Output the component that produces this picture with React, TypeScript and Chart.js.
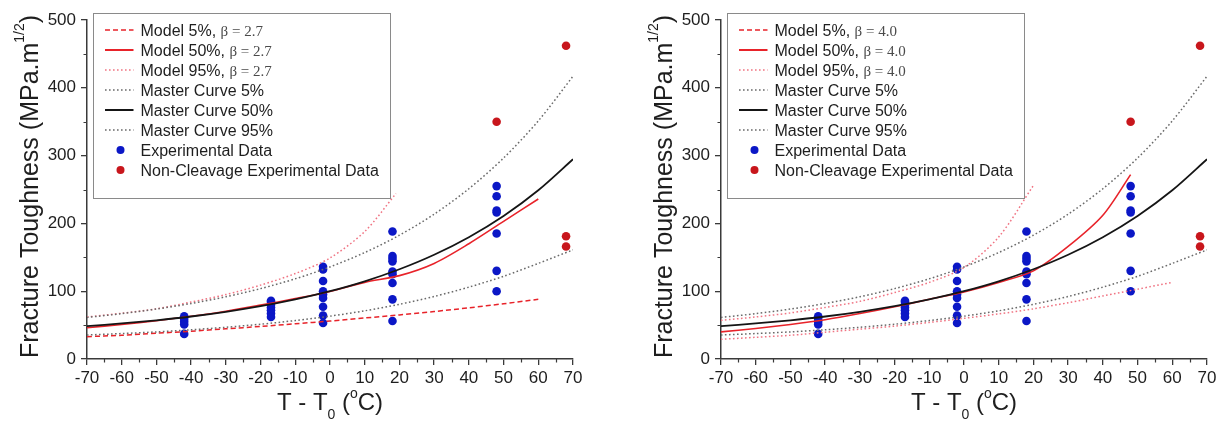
import React, { useEffect, useRef } from 'react';
import { Chart, registerables } from 'chart.js';

Chart.register(...registerables);

// ---------- data ----------
const X_MIN = -70;
const X_MAX = 70;
const X_STEP = 10;
const Y_MIN = 0;
const Y_MAX = 500;
const Y_STEP = 100;
const X_MINOR = [-65, -55, -45, -35, -25, -15, -5, 5, 15, 25, 35, 45, 55, 65];
const Y_MINOR = [50, 150, 250, 350, 450];

const CURVE_T = [-70, -60, -50, -40, -30, -20, -10, 0, 10, 20, 30, 40, 50, 60, 70];
const MASTER_5 = [35.4, 37.5, 40.0, 43.1, 46.8, 51.3, 56.7, 63.2, 71.1, 80.7, 92.2, 106, 122, 141, 161];
const MASTER_50 = [48.5, 52.4, 57.1, 62.7, 69.6, 77.9, 87.9, 100, 114.6, 132.4, 153.8, 179.7, 211, 248.9, 294.7];
const MASTER_95 = [61.3, 66.9, 73.7, 81.9, 91.8, 103.8, 118.3, 135.8, 157, 182.6, 213.6, 251.1, 296.4, 351.2, 417];

const MODEL_T60 = [-70, -60, -50, -40, -30, -20, -10, 0, 10, 20, 30, 40, 50, 60];

// beta = 2.7
const B27_M5 = [33, 35, 38, 41, 44.5, 48, 52, 56, 60.5, 65, 70, 75.5, 81.5, 88];
const B27_M50 = [46, 51, 56.5, 63, 70.5, 79.5, 89, 99.5, 113, 123, 141, 170, 203, 236];
const B27_M95_T = [-70, -60, -50, -40, -30, -20, -10, 0, 10, 19];
const B27_M95 = [62, 67.5, 74, 84, 95, 109, 126, 149, 188, 244];

// beta = 4.0
const B40_M5 = [29, 32, 35, 39.5, 44, 48.5, 54, 60, 66.5, 74, 83, 93, 103, 113];
const B40_M50_T = [-70, -60, -50, -40, -30, -20, -10, 0, 10, 20, 30, 40, 48];
const B40_M50 = [40, 45, 51, 58, 67, 77, 88, 99, 113, 130, 166, 212, 272];
const B40_M95_T = [-70, -60, -50, -40, -30, -20, -10, 0, 10, 20];
const B40_M95 = [57, 62, 68, 76, 85, 98, 113, 135, 180, 256];

// experimental data (same for both panels)
const EXP_T = [
  -42, -42, -42, -42, -42,
  -17, -17, -17, -17, -17, -17, -17,
  -2, -2, -2, -2, -2, -2, -2, -2, -2,
  18, 18, 18, 18, 18, 18, 18, 18, 18,
  48, 48, 48, 48, 48, 48, 48,
];
const EXP_K = [
  63, 59, 55, 51, 37,
  86, 84, 80, 76, 72, 67, 62,
  136, 132, 115, 100, 95, 90, 77, 64, 53,
  188, 152, 148, 144, 129, 125, 112, 88, 56,
  255, 240, 219, 216, 185, 130, 100,
];
const NC_T = [48, 68, 68, 68];
const NC_K = [350, 462, 181, 166];

// ---------- styles ----------
const SANS = '"Liberation Sans", Arial, sans-serif';
const SERIF = '"Liberation Serif", "Times New Roman", serif';
const AXIS = '#3a3a3a';
const TEXT = '#1e1e1e';
const RED = '#e8232a';
const PINK = '#f07483';
const GREY = '#6a6a6a';
const BLACK = '#151515';
const BLUE = '#0b17c6';
const DARKRED = '#c8161c';
const DASH_MODEL5 = [5, 3];
const DOT = [1.6, 2.4];

const pts = (xs: number[], ys: number[]) => xs.map((x, i) => ({ x, y: ys[i] }));

type Part = { t: string; size: number; dy?: number; font?: string };

function drawRich(ctx: CanvasRenderingContext2D, parts: Part[], cx: number, baseY: number) {
  let total = 0;
  const widths = parts.map((p) => {
    ctx.font = `${p.size}px ${p.font || SANS}`;
    const w = ctx.measureText(p.t).width;
    total += w;
    return w;
  });
  let x = cx - total / 2;
  ctx.textAlign = 'left';
  ctx.textBaseline = 'alphabetic';
  parts.forEach((p, i) => {
    ctx.font = `${p.size}px ${p.font || SANS}`;
    ctx.fillText(p.t, x, baseY + (p.dy || 0));
    x += widths[i];
  });
}

interface PanelProps {
  beta: string;
  m5: { x: number; y: number }[];
  m50: { x: number; y: number }[];
  m95: { x: number; y: number }[];
  yAxisWidth: number;
  padRight: number;
  width: number;
  left: number;
}

function makeDecor(beta: string) {
  return {
    id: 'decor',
    afterDraw(chart: any) {
      const { ctx, chartArea: a, scales } = chart;
      const xs = scales.x;
      const ys = scales.y;
      ctx.save();
      // minor ticks
      ctx.strokeStyle = AXIS;
      ctx.lineWidth = 1.2;
      ctx.setLineDash([]);
      ctx.beginPath();
      X_MINOR.forEach((v) => {
        const px = Math.round(xs.getPixelForValue(v)) + 0.5;
        ctx.moveTo(px, a.bottom);
        ctx.lineTo(px, a.bottom + 3.5);
      });
      Y_MINOR.forEach((v) => {
        const py = Math.round(ys.getPixelForValue(v)) + 0.5;
        ctx.moveTo(a.left - 3.5, py);
        ctx.lineTo(a.left, py);
      });
      ctx.stroke();

      // axis titles
      ctx.fillStyle = TEXT;
      drawRich(
        ctx,
        [
          { t: 'T - T', size: 24 },
          { t: '0', size: 14, dy: 9 },
          { t: ' (', size: 24 },
          { t: 'o', size: 14, dy: -12 },
          { t: 'C)', size: 24 },
        ],
        (a.left + a.right) / 2,
        410
      );
      ctx.save();
      ctx.translate(a.left - 49.5, (a.top + a.bottom) / 2 - 3);
      ctx.rotate(-Math.PI / 2);
      drawRich(
        ctx,
        [
          { t: 'Fracture Toughness (MPa.m', size: 25 },
          { t: '1/2', size: 14, dy: -14 },
          { t: ')', size: 25 },
        ],
        0,
        0
      );
      ctx.restore();

      // legend
      const bx = a.left + 6.5;
      const by = 13.5;
      const bw = 297;
      const bh = 185;
      ctx.fillStyle = '#ffffff';
      ctx.fillRect(bx, by, bw, bh);
      ctx.strokeStyle = '#8a8a8a';
      ctx.lineWidth = 1;
      ctx.strokeRect(bx, by, bw, bh);
      const entries = [
        { kind: 'line', color: RED, dash: DASH_MODEL5, w: 1.5, label: 'Model 5%, ', b: true },
        { kind: 'line', color: RED, dash: [], w: 2, label: 'Model 50%, ', b: true },
        { kind: 'line', color: PINK, dash: DOT, w: 1.5, label: 'Model 95%, ', b: true },
        { kind: 'line', color: GREY, dash: DOT, w: 1.5, label: 'Master Curve 5%', b: false },
        { kind: 'line', color: BLACK, dash: [], w: 2, label: 'Master Curve 50%', b: false },
        { kind: 'line', color: GREY, dash: DOT, w: 1.5, label: 'Master Curve 95%', b: false },
        { kind: 'dot', color: BLUE, dash: [], w: 0, label: 'Experimental Data', b: false },
        { kind: 'dot', color: DARKRED, dash: [], w: 0, label: 'Non-Cleavage Experimental Data', b: false },
      ];
      entries.forEach((e, i) => {
        const cy = by + 16.5 + i * 20;
        if (e.kind === 'line') {
          ctx.strokeStyle = e.color;
          ctx.lineWidth = e.w;
          ctx.setLineDash(e.dash);
          ctx.beginPath();
          ctx.moveTo(bx + 11.5, cy);
          ctx.lineTo(bx + 40, cy);
          ctx.stroke();
          ctx.setLineDash([]);
        } else {
          ctx.fillStyle = e.color;
          ctx.beginPath();
          ctx.arc(bx + 27, cy, 4, 0, Math.PI * 2);
          ctx.fill();
        }
        ctx.fillStyle = TEXT;
        ctx.textAlign = 'left';
        ctx.textBaseline = 'alphabetic';
        ctx.font = `16px ${SANS}`;
        const tx = bx + 47;
        ctx.fillText(e.label, tx, cy + 5.8);
        if (e.b) {
          const w = ctx.measureText(e.label).width;
          ctx.font = `15px ${SERIF}`;
          ctx.fillStyle = '#4a4a4a';
          ctx.fillText(`\u03b2 = ${beta}`, tx + w, cy + 5.8);
        }
      });
      ctx.restore();
    },
  };
}

function Panel(p: PanelProps) {
  const ref = useRef<HTMLCanvasElement | null>(null);
  useEffect(() => {
    if (!ref.current) return;
    const lineDs = (label: string, data: any, color: string, width: number, dash: number[]) => ({
      label,
      data,
      showLine: true,
      pointRadius: 0,
      borderColor: color,
      backgroundColor: color,
      borderWidth: width,
      borderDash: dash,
      fill: false,
      tension: 0.3,
    });
    const dotDs = (label: string, data: any, color: string) => ({
      label,
      data,
      showLine: false,
      pointRadius: 4.3,
      pointBorderWidth: 0,
      pointBackgroundColor: color,
      pointBorderColor: color,
      backgroundColor: color,
    });
    const chart = new Chart(ref.current, {
      type: 'scatter',
      data: {
        datasets: [
          lineDs('Master Curve 5%', pts(CURVE_T, MASTER_5), GREY, 1.5, DOT),
          lineDs('Master Curve 95%', pts(CURVE_T, MASTER_95), GREY, 1.5, DOT),
          lineDs('Model 5%', p.m5, p.beta === '2.7' ? RED : PINK, 1.5, p.beta === '2.7' ? DASH_MODEL5 : DOT),
          lineDs('Model 95%', p.m95, PINK, 1.5, DOT),
          lineDs('Master Curve 50%', pts(CURVE_T, MASTER_50), BLACK, 1.8, []),
          lineDs('Model 50%', p.m50, RED, 1.6, []),
          dotDs('Experimental Data', pts(EXP_T, EXP_K), BLUE),
          dotDs('Non-Cleavage Experimental Data', pts(NC_T, NC_K), DARKRED),
        ],
      } as any,
      options: {
        animation: false,
        responsive: false,
        events: [],
        layout: { padding: { left: 0, right: p.padRight, top: 20, bottom: 0 } },
        plugins: { legend: { display: false }, tooltip: { enabled: false } },
        scales: {
          x: {
            type: 'linear',
            min: X_MIN,
            max: X_MAX,
            ticks: {
              stepSize: X_STEP,
              autoSkip: false,
              maxRotation: 0,
              padding: 3,
              color: TEXT,
              font: { family: SANS, size: 17 },
            },
            grid: { display: true, drawOnChartArea: false, drawTicks: true, tickLength: 6, color: AXIS, lineWidth: 1.3 },
            border: { display: true, color: AXIS, width: 1.5 },
            afterFit: (s: any) => {
              s.height = 62;
            },
          },
          y: {
            type: 'linear',
            min: Y_MIN,
            max: Y_MAX,
            ticks: {
              stepSize: Y_STEP,
              padding: 5,
              color: TEXT,
              font: { family: SANS, size: 17 },
            },
            grid: { display: true, drawOnChartArea: false, drawTicks: true, tickLength: 6, color: AXIS, lineWidth: 1.3 },
            border: { display: true, color: AXIS, width: 1.5 },
            afterFit: (s: any) => {
              s.width = p.yAxisWidth;
            },
          },
        },
      } as any,
      plugins: [makeDecor(p.beta)],
    });
    return () => chart.destroy();
  }, []);
  return (
    <div style={{ position: 'absolute', left: p.left, top: 0, width: p.width, height: 421 }}>
      <canvas ref={ref} width={p.width} height={421} style={{ width: p.width, height: 421, display: 'block' }} />
    </div>
  );
}

export default function App() {
  return (
    <div style={{ position: 'absolute', left: 0, top: 0, width: 1223, height: 421, background: '#fff', overflow: 'hidden' }}>
      <Panel
        beta="2.7"
        m5={pts(MODEL_T60, B27_M5)}
        m50={pts(MODEL_T60, B27_M50)}
        m95={pts(B27_M95_T, B27_M95)}
        yAxisWidth={87}
        padRight={38}
        width={611}
        left={0}
      />
      <Panel
        beta="4.0"
        m5={pts(MODEL_T60, B40_M5)}
        m50={pts(B40_M50_T, B40_M50)}
        m95={pts(B40_M95_T, B40_M95)}
        yAxisWidth={110}
        padRight={16}
        width={612}
        left={611}
      />
    </div>
  );
}
